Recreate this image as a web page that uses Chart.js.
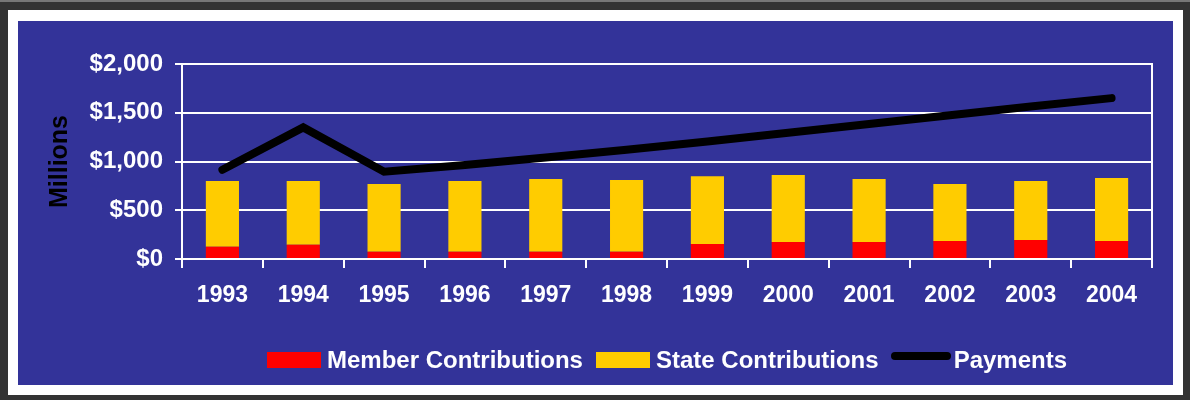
<!DOCTYPE html>
<html>
<head>
<meta charset="utf-8">
<script src="https://cdn.jsdelivr.net/npm/chart.js@4.4.1/dist/chart.umd.min.js"></script>
<style>
  body { margin: 0; width: 1190px; height: 400px; overflow: hidden; position: relative; background: #333333; font-family: "Liberation Sans", Arial, sans-serif; }
  #topline { position: absolute; left: 0; top: 0; width: 1190px; height: 2px; background: #777777; }
  #frame { position: absolute; left: 8px; top: 10px; width: 1175px; height: 385px; background: #ffffff; }
  #panel { position: absolute; left: 18px; top: 21px; width: 1155px; height: 364px; background: #333399; }
  #legend { position: absolute; left: 182px; width: 970px; top: 346px; height: 28px; display: flex; justify-content: center; align-items: center; color: #fff; font-weight: bold; font-size: 24px; line-height: 28px; white-space: nowrap; }
  .box { width: 54px; height: 16px; margin-right: 6px; }
  .line { width: 60px; height: 8px; border-radius: 4px; background: #000; margin-right: 3px; margin-top: -8px; }
  .gap { width: 13px; }
</style>
</head>
<body>
<div id="topline"></div>
<div id="frame"></div>
<div id="panel"><canvas id="chart" width="1155" height="364"></canvas></div>
<div id="legend">
  <div class="box" style="background:#ff0000"></div><span>Member Contributions</span><div class="gap"></div>
  <div class="box" style="background:#ffcc00"></div><span>State Contributions</span><div style="width:12px"></div>
  <div class="line"></div><span>Payments</span>
</div>
<script>
const years = ['1993', '1994', '1995', '1996', '1997', '1998', '1999', '2000', '2001', '2002', '2003', '2004'];
const memberContributions = [125, 145, 75, 75, 75, 75, 155, 175, 175, 185, 195, 185];
const stateContributions = [675, 655, 695, 725, 745, 735, 695, 687, 645, 585, 605, 645];
const payments = [915, 1350, 895, 965, 1040, 1120, 1205, 1295, 1385, 1475, 1565, 1650];

const font = { family: '"Liberation Sans", Arial, sans-serif', weight: 'bold' };

const ctx = document.getElementById('chart').getContext('2d');
const chart = new Chart(ctx, {
    type: 'bar',
    data: {
        labels: years,
        datasets: [{
            label: 'Member Contributions',
            data: memberContributions,
            backgroundColor: '#ff0000',
            stack: 'contrib',
            order: 1,
            categoryPercentage: 1,
            barPercentage: 0.41
        }, {
            label: 'State Contributions',
            data: stateContributions,
            backgroundColor: '#ffcc00',
            stack: 'contrib',
            order: 1,
            categoryPercentage: 1,
            barPercentage: 0.41
        }, {
            type: 'line',
            label: 'Payments',
            data: payments,
            borderColor: '#000000',
            backgroundColor: '#000000',
            borderWidth: 8,
            borderCapStyle: 'round',
            borderJoinStyle: 'miter',
            pointRadius: 0,
            tension: 0,
            stack: 'pay',
            order: 0
        }]
    },
    options: {
        responsive: false,
        animation: false,
        layout: { padding: { top: 43, right: 21, bottom: 0, left: 0 } },
        plugins: {
            legend: { display: false },
            tooltip: { enabled: false }
        },
        scales: {
            x: {
                stacked: true,
                offset: true,
                grid: { offset: true, drawOnChartArea: false, color: '#ffffff', lineWidth: 2, tickLength: 9 },
                border: { color: '#ffffff', width: 2 },
                ticks: { color: '#ffffff', font: { ...font, size: 23 }, padding: 14, maxRotation: 0 },
                afterFit: (s) => { s.height = 126; }
            },
            y: {
                stacked: true,
                min: 0,
                max: 2000,
                grid: { color: '#ffffff', lineWidth: 2, tickLength: 7 },
                border: { color: '#ffffff', width: 2 },
                ticks: {
                    stepSize: 500,
                    color: '#ffffff',
                    font: { ...font, size: 24 },
                    padding: 12,
                    callback: (v) => '$' + v.toLocaleString('en-US')
                },
                title: {
                    display: true,
                    text: 'Millions',
                    color: '#000000',
                    font: { ...font, size: 25 },
                    padding: { top: 27, bottom: 0 }
                },
                afterFit: (s) => { s.width = 164; }
            },
            y2: {
                position: 'right',
                display: true,
                grid: { display: false },
                border: { color: '#ffffff', width: 2 },
                ticks: { display: false },
                afterFit: (s) => { s.width = 0; }
            }
        }
    }
});
</script>
</body>
</html>
